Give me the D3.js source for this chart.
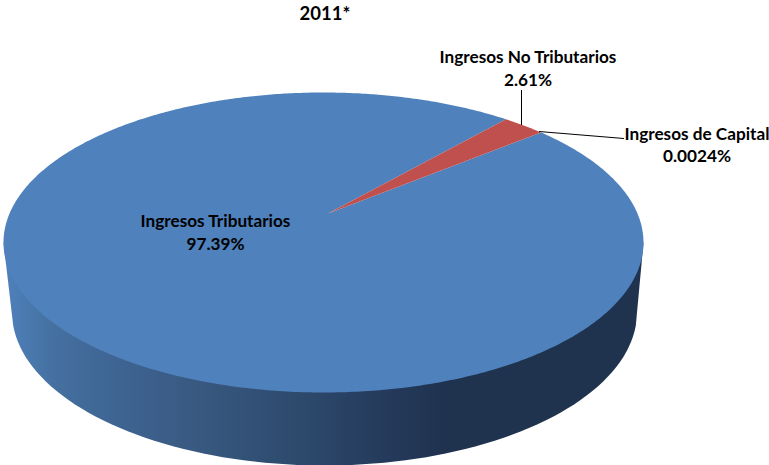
<!DOCTYPE html>
<html>
<head>
<meta charset="utf-8">
<script src="https://cdn.jsdelivr.net/npm/d3@7"></script>
<style>
  html, body { margin: 0; padding: 0; background: #fff; }
  svg { display: block; }
  text { font-family: Lato, "Open Sans", sans-serif; font-weight: 700; fill: #000; }
</style>
</head>
<body>
<div id="viz"></div>
<script>
const categories = ["Ingresos Tributarios", "Ingresos No Tributarios", "Ingresos de Capital"];
const values = [97.39, 2.61, 0.0024];
const valueLabels = ["97.39%", "2.61%", "0.0024%"];
const sliceColors = ["#4f81bd", "#c0504d", "#9bbb59"];

const width = 769, height = 465;
const top_ = {cx: 323.5, cy: 242.5, rx: 320, ry: 150};   // top face
const bottom = {cx: 324.5, cy: 312, rx: 312.5, ry: 153.5}; // base of the cylinder
const apex = [4.5 / 320, -29 / 150];                     // pie centre seen in perspective
const startDeg = 50.4;

// label placement: centre x, first baseline, second baseline
const labelX = [215.5, 528, 697];
const labelY = [[227, 250], [63, 86], [140, 162]];
const leaders = [null, [[521.5, 90], [521.5, 125]], [[539, 131.5], [624, 138.5]]];

const svg = d3.select("#viz")
  .append("svg")
  .attr("width", width)
  .attr("height", height)
  .attr("viewBox", [0, 0, width, height]);

// gradient of the side wall
const sideStops = [[0, "#4f81bd"], [0.08, "#44709f"], [0.16, "#3f6695"], [0.31, "#38587f"],
                   [0.46, "#2d4a6d"], [0.61, "#24395a"], [0.69, "#1f334f"], [1, "#1f334f"]];
const grad = svg.append("defs").append("linearGradient")
  .attr("id", "side")
  .attr("gradientUnits", "userSpaceOnUse")
  .attr("x1", top_.cx - top_.rx).attr("x2", top_.cx + top_.rx)
  .attr("y1", 0).attr("y2", 0);
grad.selectAll("stop").data(sideStops).enter().append("stop")
  .attr("offset", d => d[0])
  .attr("stop-color", d => d[1]);

// moves the centre of the unit disc to the apex, keeps straight lines straight
function project(angle) {
  const p = [Math.sin(angle), -Math.cos(angle)];
  const k2 = apex[0] * apex[0] + apex[1] * apex[1];
  const dot = p[0] * apex[0] + p[1] * apex[1];
  const s = Math.sqrt(1 - k2);
  const w = 1 + dot;
  const par = [apex[0] * dot / k2, apex[1] * dot / k2];
  const x = (par[0] + apex[0] + s * (p[0] - par[0])) / w;
  const y = (par[1] + apex[1] + s * (p[1] - par[1])) / w;
  return [top_.cx + x * top_.rx, top_.cy + y * top_.ry];
}

const line = d3.line();
const pie = d3.pie().sort(null)
  .startAngle(startDeg * Math.PI / 180)
  .endAngle((startDeg + 360) * Math.PI / 180);
const slices = pie(values);

// side wall
const base = d3.range(5, 176, 2).map(a => {
  const t = a * Math.PI / 180;
  return [bottom.cx + bottom.rx * Math.cos(t), bottom.cy + bottom.ry * Math.sin(t)];
});
svg.append("path")
  .attr("d", line([[top_.cx + top_.rx, top_.cy], ...base, [top_.cx - top_.rx, top_.cy]]) + "Z")
  .attr("fill", "url(#side)");

// top face
const apexXY = [top_.cx + apex[0] * top_.rx, top_.cy + apex[1] * top_.ry];
svg.append("g").selectAll("path")
  .data(slices)
  .enter()
  .append("path")
    .attr("d", d => {
      const n = Math.max(2, Math.ceil((d.endAngle - d.startAngle) / 0.01));
      const rim = d3.range(n + 1).map(i => project(d.startAngle + (d.endAngle - d.startAngle) * i / n));
      return line([apexXY, ...rim]) + "Z";
    })
    .attr("fill", (d, i) => sliceColors[i]);

// leader lines
svg.append("g").selectAll("path")
  .data(leaders.filter(d => d))
  .enter()
  .append("path")
    .attr("d", d => line(d))
    .attr("fill", "none")
    .attr("stroke", "#000")
    .attr("stroke-width", 1);

// title
svg.append("text")
  .attr("x", 325)
  .attr("y", 20)
  .attr("text-anchor", "middle")
  .style("font-size", "18.5px")
  .text("2011*");

// labels
categories.forEach((c, i) => {
  const g = svg.append("g").attr("text-anchor", "middle").style("font-size", "17.2px");
  g.append("text").attr("x", labelX[i]).attr("y", labelY[i][0]).text(c);
  g.append("text").attr("x", labelX[i]).attr("y", labelY[i][1]).text(valueLabels[i]);
});
</script>
</body>
</html>
